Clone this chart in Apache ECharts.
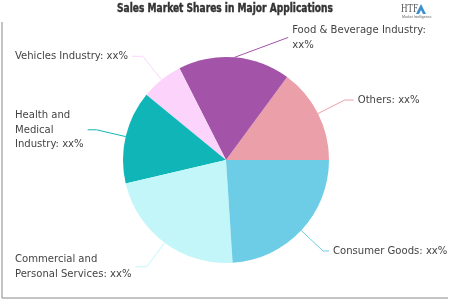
<!DOCTYPE html>
<html><head><meta charset="utf-8">
<script src="https://cdn.jsdelivr.net/npm/echarts@6/dist/echarts.min.js"></script>
<style>html,body{margin:0;padding:0;background:#fff}#c{width:450px;height:300px}</style>
</head><body><div id="c"></div>
<script>
const categories = ["Others", "Food & Beverage Industry", "Vehicles Industry", "Health and Medical Industry", "Commercial and Personal Services", "Consumer Goods"];
const values = [14.9, 17.6, 6.6, 14.6, 22.4, 24.0];
const labelTexts = ["Others: xx%", "Food & Beverage Industry:\nxx%", "Vehicles Industry: xx%", "Health and\nMedical\nIndustry: xx%", "Commercial and\nPersonal Services: xx%", "Consumer Goods: xx%"];
const colors = ["#eb9fa9", "#a454a8", "#fcd4fb", "#10b6b7", "#c3f6f8", "#6ecde6"];
// label styling per slice (not data)
const labelAlign = ["none", "none", "edge", "edge", "edge", "none"];
const lineLen = [30, 20, 30, 30, 30, 30];
const lineLen2 = [9, 52, 10, 10, 10, 6];
const straightLine = [false, true, false, false, false, false];

const chart = echarts.init(document.getElementById('c'));
chart.setOption({
  animation: false,
  graphic: [
    {type: 'text', x: 225, y: 3, scaleX: 0.84,
     style: {text: 'Sales Market Shares in Major Applications', textAlign: 'center',
             font: 'bold 12px "DejaVu Sans Condensed"', fill: '#333', stroke: '#333', lineWidth: 0.4}},
    {type: 'polyline', shape: {points: [[2, 22], [2, 298], [448, 298]]}, style: {stroke: '#888', lineWidth: 1, fill: null}},
    {type: 'text', x: 401, y: 3, scaleX: 0.75, style: {text: 'HTF', font: '12px "Liberation Serif"', fill: '#555'}},
    {type: 'polygon', shape: {points: [[416, 14], [421, 4], [426, 14]]}, style: {fill: '#3a8fd0'}},
    {type: 'polygon', shape: {points: [[419, 14], [421, 10], [423, 14]]}, style: {fill: '#ffffff'}},
    {type: 'text', x: 402, y: 15.5, style: {text: 'Market Intelligence', font: '3.5px "Liberation Sans"', fill: '#666'}}
  ],
  series: [{
    type: 'pie',
    center: [226, 160],
    radius: 103,
    startAngle: 0,
    clockwise: false,
    data: categories.map((n, i) => ({
      name: n, value: values[i],
      itemStyle: {color: colors[i]},
      label: {alignTo: labelAlign[i], edgeDistance: 15},
      labelLine: {length: lineLen[i], length2: lineLen2[i]}
    })),
    label: {
      formatter: p => labelTexts[p.dataIndex],
      fontFamily: '"DejaVu Sans Condensed"', fontSize: 11.2, color: '#444', lineHeight: 14.5,
      overflow: 'none', distanceToLabelLine: 4
    },
    labelLine: {lineStyle: {width: 1}},
    labelLayout: function (p) {
      if (straightLine[p.dataIndex] && p.labelLinePoints) {
        const pts = p.labelLinePoints;
        return {labelLinePoints: [pts[0], pts[pts.length - 1]]};
      }
    },
    itemStyle: {borderWidth: 0}
  }]
});
</script></body></html>
